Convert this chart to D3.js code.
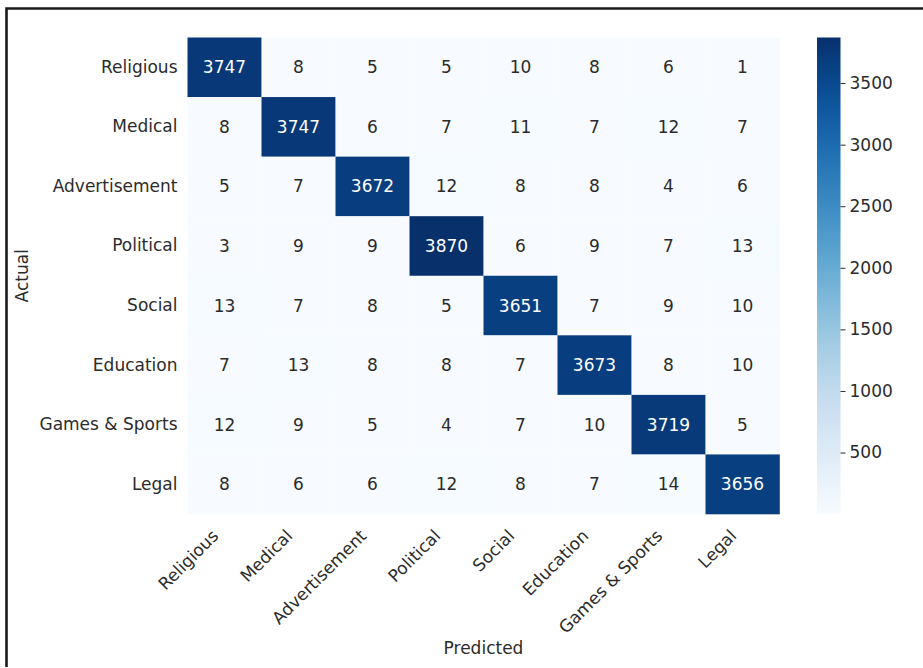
<!DOCTYPE html>
<html>
<head>
<meta charset="utf-8">
<script src="https://cdn.jsdelivr.net/npm/d3@7"></script>
<style>
html,body{margin:0;padding:0;background:#fff;}
svg text{font-family:"DejaVu Sans",sans-serif;}
</style>
</head>
<body>
<svg id="chart" width="923" height="668"></svg>
<script>
const categories = ["Religious","Medical","Advertisement","Political","Social","Education","Games & Sports","Legal"];
const matrix = [
  [3747, 8, 5, 5, 10, 8, 6, 1],
  [8, 3747, 6, 7, 11, 7, 12, 7],
  [5, 7, 3672, 12, 8, 8, 4, 6],
  [3, 9, 9, 3870, 6, 9, 7, 13],
  [13, 7, 8, 5, 3651, 7, 9, 10],
  [7, 13, 8, 8, 7, 3673, 8, 10],
  [12, 9, 5, 4, 7, 10, 3719, 5],
  [8, 6, 6, 12, 8, 7, 14, 3656]
];
const colorbarTicks = [500, 1000, 1500, 2000, 2500, 3000, 3500];
const xLabel = "Predicted";
const yLabel = "Actual";

(function () {
const svg = d3.select("#chart");
const textColor = "#2b2b2b";
const fs = 17;

// frame
svg.append("path")
  .attr("d", "M6.5,667 L6.5,8.5 L923,8.5")
  .attr("fill", "none").attr("stroke", "#1a1a1a").attr("stroke-width", 2.6);

const mLeft = 187.5, mTop = 37.5, mRight = 779.5, mBottom = 514;
const x = d3.scaleBand().domain(categories).range([mLeft, mRight]);
const y = d3.scaleBand().domain(categories).range([mTop, mBottom]);

const flat = matrix.flatMap(r => r);
const vmin = d3.min(flat), vmax = d3.max(flat);
const color = d3.scaleSequential(d3.interpolateBlues).domain([vmin, vmax]);

const cells = [];
matrix.forEach((row, i) => row.forEach((v, j) => cells.push({r: categories[i], c: categories[j], v})));

svg.append("g").selectAll("rect").data(cells).join("rect")
  .attr("x", d => x(d.c)).attr("y", d => y(d.r))
  .attr("width", x.bandwidth() + 0.3).attr("height", y.bandwidth() + 0.3)
  .attr("fill", d => color(d.v));

svg.append("g").selectAll("text").data(cells).join("text")
  .attr("x", d => x(d.c) + x.bandwidth() / 2)
  .attr("y", d => y(d.r) + y.bandwidth() / 2)
  .attr("text-anchor", "middle").attr("dominant-baseline", "central")
  .attr("font-size", fs)
  .attr("fill", d => (d.v - vmin) / (vmax - vmin) > 0.5 ? "#ffffff" : textColor)
  .text(d => d.v);

// y axis
const yAxis = svg.append("g").attr("transform", `translate(${mLeft},0)`)
  .call(d3.axisLeft(y).tickSize(0).tickPadding(10));
yAxis.select(".domain").remove();
yAxis.selectAll("text").attr("font-size", fs).attr("fill", textColor)
  .style("font-family", "DejaVu Sans");

// x axis
const xAxis = svg.append("g").attr("transform", `translate(0,${mBottom})`)
  .call(d3.axisBottom(x).tickSize(0).tickPadding(0));
xAxis.select(".domain").remove();
xAxis.selectAll("text").attr("font-size", fs).attr("fill", textColor)
  .style("font-family", "DejaVu Sans")
  .attr("text-anchor", "end")
  .attr("dy", null).attr("y", 0)
  .attr("transform", "translate(-5,23) rotate(-45)");

// axis titles
svg.append("text").attr("x", (mLeft + mRight) / 2).attr("y", 654)
  .attr("text-anchor", "middle").attr("font-size", fs).attr("fill", textColor).text(xLabel);
svg.append("text").attr("transform", `translate(28,${(mTop + mBottom) / 2}) rotate(-90)`)
  .attr("text-anchor", "middle").attr("font-size", fs).attr("fill", textColor).text(yLabel);

// colorbar
const cbX = 817, cbW = 23.5;
const cbScale = d3.scaleLinear().domain([vmin, vmax]).range([mBottom, mTop]);
const defs = svg.append("defs");
const grad = defs.append("linearGradient").attr("id", "cbgrad")
  .attr("x1", 0).attr("y1", 1).attr("x2", 0).attr("y2", 0);
d3.range(0, 1.0001, 0.02).forEach(t => {
  grad.append("stop").attr("offset", t).attr("stop-color", d3.interpolateBlues(t));
});
svg.append("rect").attr("x", cbX).attr("y", mTop).attr("width", cbW).attr("height", mBottom - mTop)
  .attr("fill", "url(#cbgrad)");
const cbAxis = svg.append("g").attr("transform", `translate(${cbX + cbW},0)`)
  .call(d3.axisRight(cbScale).tickValues(colorbarTicks).tickFormat(d3.format("d")).tickSize(5).tickPadding(4));
cbAxis.select(".domain").remove();
cbAxis.selectAll("line").attr("stroke", textColor).attr("stroke-width", 1);
cbAxis.selectAll("text").attr("font-size", fs).attr("fill", textColor)
  .style("font-family", "DejaVu Sans");
})();
</script>
</body>
</html>
